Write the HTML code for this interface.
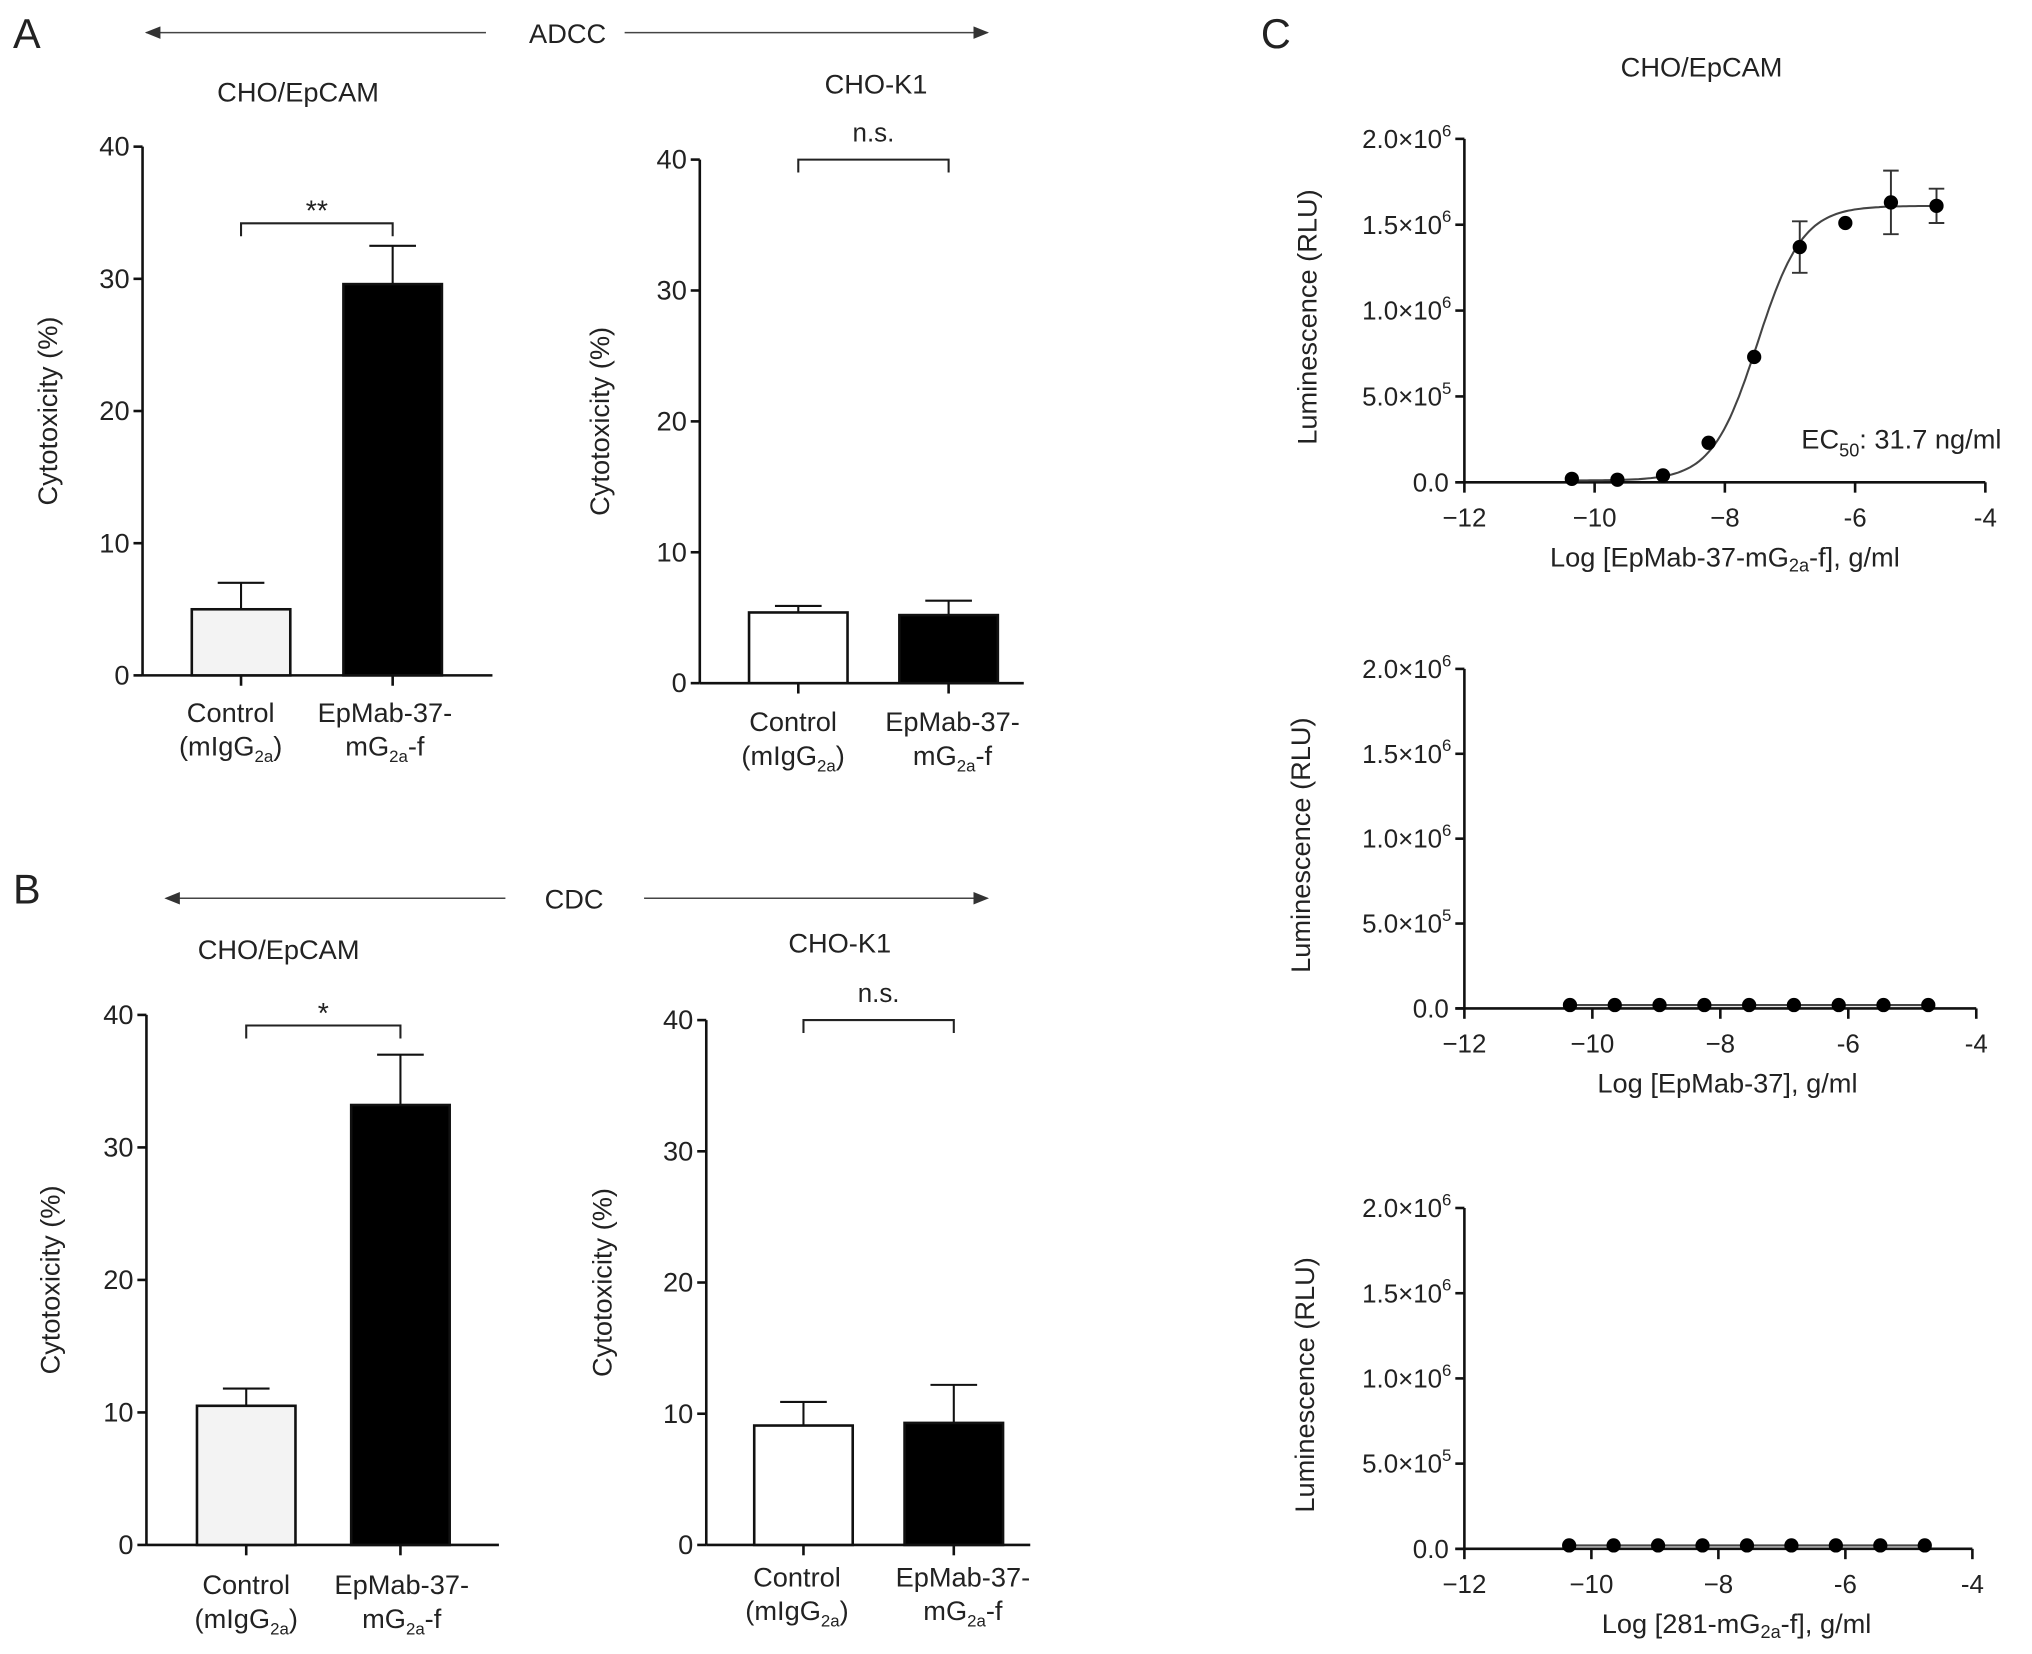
<!DOCTYPE html>
<html><head><meta charset="utf-8"><style>
html,body{margin:0;padding:0;background:#fff;}
svg{display:block;font-family:"Liberation Sans",Arial,sans-serif;fill:#222;}
</style></head><body>
<svg id="fig" width="2032" height="1654" viewBox="0 0 1568 1276" xmlns="http://www.w3.org/2000/svg">
<defs><marker id="ah" markerWidth="10" markerHeight="8" refX="9" refY="4" orient="auto"><path d="M0,0 L10,4 L0,8 z" fill="#333"/></marker></defs>
</svg>
<script>
// ---- Data ----
const barCategories = ["Control", "EpMab-37-mG2a-f"];
const adccEpcamValues = [5.0, 29.6];
const adccEpcamErrors = [2.0, 2.9];
const adccK1Values = [5.4, 5.2];
const adccK1Errors = [0.5, 1.1];
const cdcEpcamValues = [10.5, 33.2];
const cdcEpcamErrors = [1.3, 3.8];
const cdcK1Values = [9.1, 9.3];
const cdcK1Errors = [1.8, 2.9];
const barTicks = [0, 10, 20, 30, 40];
const doseX = [-10.35, -9.65, -8.95, -8.25, -7.55, -6.85, -6.15, -5.45, -4.75];
const dose1Y = [0.2e5, 0.15e5, 0.4e5, 2.3e5, 7.3e5, 13.7e5, 15.1e5, 16.3e5, 16.1e5];
const dose1Err = [0, 0, 0, 0, 0, 1.5e5, 0, 1.85e5, 1.0e5];
const dose2Y = [0.2e5, 0.2e5, 0.2e5, 0.2e5, 0.2e5, 0.2e5, 0.2e5, 0.2e5, 0.2e5];
const dose3Y = [0.2e5, 0.2e5, 0.2e5, 0.2e5, 0.2e5, 0.2e5, 0.2e5, 0.2e5, 0.2e5];
const fitParams = [0.1e5, 16.1e5, -7.5, 1.25]; // bottom, top, logEC50, hill
const doseXTicks = [-12, -10, -8, -6, -4];
const doseXTickLabels = ["\u221212", "\u221210", "\u22128", "-6", "-4"];
const doseYTicks = [0, 5e5, 10e5, 15e5, 20e5];
const doseYTickLabels = [["0.0",""], ["5.0\u00d710","5"], ["1.0\u00d710","6"], ["1.5\u00d710","6"], ["2.0\u00d710","6"]];

const NS = "http://www.w3.org/2000/svg";
const svg = document.getElementById('fig');
function mk(tag, attrs, parent) {
  const e = document.createElementNS(NS, tag);
  for (const k in attrs) e.setAttribute(k, attrs[k]);
  (parent || svg).appendChild(e);
  return e;
}
function txt(x, y, s, size, anchor, parent) {
  const t = mk('text', {x: x, y: y, 'font-size': size, 'text-anchor': anchor || 'middle'}, parent);
  t.innerHTML = s;
  return t;
}

let t;
t = txt(10, 37, "A", 32, "start");  
t = txt(10, 697, "B", 32, "start");  
t = txt(973, 37, "C", 32, "start");  
function arrows(y, l1, l2, r1, r2, label, cx, name) {
  let a = mk('line', {x1: l2, y1: y, x2: l1, y2: y, stroke: '#444', 'stroke-width': 1.2, 'marker-end': 'url(#ah)'});
   
  a = mk('line', {x1: r1, y1: y, x2: r2, y2: y, stroke: '#444', 'stroke-width': 1.2, 'marker-end': 'url(#ah)'});
   
  let tt = txt(cx, y + 8, label, 21);
   
}
arrows(25, 113, 375, 482, 762, "ADCC", 438, "adcc");
arrows(693, 128, 390, 497, 762, "CDC", 443, "cdc");

function barChart(o) {
  const g = mk('g', {});
   
  const ys = v => o.y0 - (v / 40) * (o.y0 - o.y40);
  let e = txt(o.tx, o.ty, o.title, 21, 'middle', g);
   
  e = mk('line', {x1: o.ax, y1: o.y40, x2: o.ax, y2: o.y0, stroke: '#111', 'stroke-width': 2}, g);
   
  e = mk('line', {x1: o.ax, y1: o.y0, x2: o.xend, y2: o.y0, stroke: '#111', 'stroke-width': 2}, g);
   
  barTicks.forEach(v => {
    let l = mk('line', {x1: o.ax - 7, y1: ys(v), x2: o.ax, y2: ys(v), stroke: '#111', 'stroke-width': 2}, g);
     
    let tl = txt(o.ax - 10, ys(v) + 7, String(v), 21, 'end', g);
     
  });
  e = txt(0, 0, "Cytotoxicity (%)", 21, 'middle', g);
  e.setAttribute('transform', `translate(${o.ylx},${(o.y0 + o.y40) / 2}) rotate(-90)`);
   
  const fills = [o.fill0, '#000'];
  barCategories.forEach((c, i) => {
    const cx = o.cx[i], v = o.vals[i], er = o.errs[i];
    let el = mk('line', {x1: cx, y1: ys(v), x2: cx, y2: ys(v + er), stroke: '#111', 'stroke-width': 1.6}, g);
     
    el = mk('line', {x1: cx - 18, y1: ys(v + er), x2: cx + 18, y2: ys(v + er), stroke: '#111', 'stroke-width': 1.6}, g);
     
    el = mk('rect', {x: cx - 38, y: ys(v), width: 76, height: ys(0) - ys(v), fill: fills[i], stroke: '#111', 'stroke-width': 2}, g);
     
    el = mk('line', {x1: cx, y1: o.y0, x2: cx, y2: o.y0 + 8, stroke: '#111', 'stroke-width': 2}, g);
     
    const lx = o.lx[i];
    const l1 = i ? "EpMab-37-" : "Control";
    const l2 = i ? 'mG<tspan font-size="13" dy="5">2a</tspan><tspan dy="-5">-f</tspan>' : '(mIgG<tspan font-size="13" dy="5">2a</tspan><tspan dy="-5">)</tspan>';
    el = txt(lx, o.ly, l1, 21, 'middle', g);
     
    el = txt(lx, o.ly + 26, l2, 21, 'middle', g);
     
  });
  const by = ys(o.bracket);
  e = mk('path', {d: `M${o.cx[0]},${by + 10} V${by} H${o.cx[1]} V${by + 10}`, fill: 'none', stroke: '#222', 'stroke-width': 1.6}, g);
   
  e = txt((o.cx[0] + o.cx[1]) / 2, by - (o.sig === 'n.s.' ? 14 : 2), o.sig, o.sig === 'n.s.' ? 20 : 22, 'middle', g);
   
}
barChart({name: 'adcc-cho-epcam-chart', title: 'CHO/EpCAM', tx: 230, ty: 78, ax: 110, y0: 521, y40: 113, xend: 380, cx: [186, 303], lx: [178, 297], ly: 557, vals: adccEpcamValues, errs: adccEpcamErrors, fill0: '#f3f3f3', bracket: 34.2, sig: '**', ylx: 44});
barChart({name: 'adcc-cho-k1-chart', title: 'CHO-K1', tx: 676, ty: 72, ax: 540, y0: 527, y40: 123, xend: 790, cx: [616, 732], lx: [612, 735], ly: 564, vals: adccK1Values, errs: adccK1Errors, fill0: '#fff', bracket: 40, sig: 'n.s.', ylx: 470});
barChart({name: 'cdc-cho-epcam-chart', title: 'CHO/EpCAM', tx: 215, ty: 740, ax: 113, y0: 1192, y40: 783, xend: 385, cx: [190, 309], lx: [190, 310], ly: 1230, vals: cdcEpcamValues, errs: cdcEpcamErrors, fill0: '#f3f3f3', bracket: 39.2, sig: '*', ylx: 46});
barChart({name: 'cdc-cho-k1-chart', title: 'CHO-K1', tx: 648, ty: 735, ax: 545, y0: 1192, y40: 787, xend: 795, cx: [620, 736], lx: [615, 743], ly: 1224, vals: cdcK1Values, errs: cdcK1Errors, fill0: '#fff', bracket: 40, sig: 'n.s.', ylx: 472});

function doseChart(o) {
  const g = mk('g', {});
   
  const xs = v => o.ax + (v + 12) / 8 * (o.x4 - o.ax);
  const ys = v => o.y0 - v / 2e6 * (o.y0 - o.ytop);
  let e = mk('line', {x1: o.ax, y1: o.ytop, x2: o.ax, y2: o.y0, stroke: '#111', 'stroke-width': 2}, g);
   
  e = mk('line', {x1: o.ax - 7, y1: o.y0, x2: o.x4, y2: o.y0, stroke: '#111', 'stroke-width': 2}, g);
   
  doseYTicks.forEach((v, i) => {
    let l = mk('line', {x1: o.ax - 7, y1: ys(v), x2: o.ax, y2: ys(v), stroke: '#111', 'stroke-width': 2}, g);
     
    const lab = doseYTickLabels[i];
    let s = lab[1] ? lab[0] + '<tspan font-size="13" dy="-9">' + lab[1] + '</tspan>' : lab[0];
    let tl = txt(o.ax - (lab[1] ? 10 : 12), ys(v) + 7, s, 20, 'end', g);
     
  });
  doseXTicks.forEach((v, i) => {
    let l = mk('line', {x1: xs(v), y1: o.y0, x2: xs(v), y2: o.y0 + 8, stroke: '#111', 'stroke-width': 2}, g);
     
    let tl = txt(xs(v), o.y0 + 34, doseXTickLabels[i], 20, 'middle', g);
     
  });
  e = txt(0, 0, "Luminescence (RLU)", 21, 'middle', g);
  e.setAttribute('transform', `translate(${o.ylx},${(o.y0 + o.ytop) / 2 + 5}) rotate(-90)`);
   
  e = txt(o.xtx, o.y0 + 65, o.xtitle, 21, 'middle', g);
   
  let d = '';
  if (o.fit) {
    for (let k = 0; k <= 120; k++) {
      const xv = doseX[0] + (doseX[doseX.length - 1] - doseX[0]) * k / 120;
      const yv = fitParams[0] + (fitParams[1] - fitParams[0]) / (1 + Math.pow(10, (fitParams[2] - xv) * fitParams[3]));
      d += (k ? 'L' : 'M') + xs(xv).toFixed(1) + ',' + ys(yv).toFixed(1);
    }
  } else {
    o.ys.forEach((v, i) => { d += (i ? 'L' : 'M') + xs(doseX[i]) + ',' + ys(v); });
  }
  e = mk('path', {d: d, fill: 'none', stroke: '#444', 'stroke-width': 1.6}, g);
   
  o.ys.forEach((v, i) => {
    const er = o.errs ? o.errs[i] : 0;
    if (er > 0) {
      const cx = xs(doseX[i]);
      let p = mk('path', {d: `M${cx - 6},${ys(v + er)} H${cx + 6} M${cx},${ys(v + er)} V${ys(v - er)} M${cx - 6},${ys(v - er)} H${cx + 6}`, fill: 'none', stroke: '#333', 'stroke-width': 1.5}, g);
       
    }
    let c = mk('circle', {cx: xs(doseX[i]), cy: ys(v), r: 5.5, fill: '#000'}, g);
     
  });
}
t = txt(1313, 59, "CHO/EpCAM", 21);  
doseChart({name: 'epmab37-mg2a-f-dose-chart', ax: 1130, x4: 1532, ytop: 107, y0: 372, ys: dose1Y, errs: dose1Err, fit: true, ylx: 1016, xtx: 1331, xtitle: 'Log [EpMab-37-mG<tspan font-size="14" dy="4">2a</tspan><tspan dy="-4">-f], g/ml</tspan>'});
t = txt(1390, 346, 'EC<tspan font-size="14" dy="6">50</tspan><tspan dy="-6">: 31.7 ng/ml</tspan>', 21, 'start');  
doseChart({name: 'epmab37-dose-chart', ax: 1130, x4: 1525, ytop: 516, y0: 778, ys: dose2Y, fit: false, ylx: 1011, xtx: 1333, xtitle: 'Log [EpMab-37], g/ml'});
doseChart({name: '281-mg2a-f-dose-chart', ax: 1130, x4: 1522, ytop: 932, y0: 1195, ys: dose3Y, fit: false, ylx: 1014, xtx: 1340, xtitle: 'Log [281-mG<tspan font-size="14" dy="4">2a</tspan><tspan dy="-4">-f], g/ml</tspan>'});
</script>
</body></html>
